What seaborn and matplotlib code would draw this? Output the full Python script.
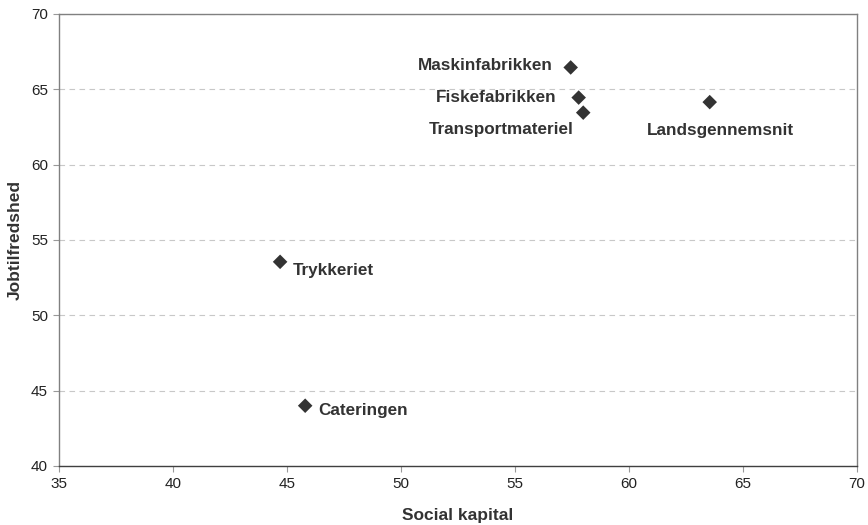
import matplotlib
matplotlib.use("Agg")
import matplotlib.pyplot as plt
import seaborn as sns
import pandas as pd

names = ["Maskinfabrikken", "Fiskefabrikken", "Transportmateriel",
         "Landsgennemsnit", "Trykkeriet", "Cateringen"]
social_kapital = [57.45, 57.8, 58.0, 63.55, 44.7, 45.8]
jobtilfredshed = [66.45, 64.45, 63.45, 64.15, 53.55, 44.0]
x_ticks = [35, 40, 45, 50, 55, 60, 65, 70]
y_ticks = [40, 45, 50, 55, 60, 65, 70]

df = pd.DataFrame({"Social kapital": social_kapital,
                   "Jobtilfredshed": jobtilfredshed,
                   "navn": names})

sns.set_theme(style="white")
plt.rcParams['font.family'] = ['Liberation Sans', 'DejaVu Sans']

fig = plt.figure(figsize=(8.68, 5.25), dpi=100)
ax = fig.add_axes([0.068, 0.1124, 0.919, 0.861])

sns.scatterplot(data=df, x="Social kapital", y="Jobtilfredshed", ax=ax,
                marker="D", s=55, color="#333333", edgecolor="none", zorder=3)

ax.set_xlim(35, 70)
ax.set_ylim(40, 70)
ax.set_xticks(x_ticks)
ax.set_yticks(y_ticks)
ax.yaxis.grid(True, linestyle=(0, (5, 4)), color="#c8c8c8", linewidth=0.8)
ax.xaxis.grid(False)
for sp in ax.spines.values():
    sp.set_color("#808080")
    sp.set_linewidth(1.0)
ax.spines["bottom"].set_color("#404040")
ax.tick_params(axis="both", length=4, width=0.8, color="#999999",
               labelsize=11, labelcolor="#222222", pad=4, direction="out")
ax.tick_params(axis="both", which="major", bottom=True, left=True)

ax.set_xlabel("Social kapital", fontsize=12.5, fontweight="bold", color="#333333", labelpad=12)
ax.set_ylabel("Jobtilfredshed", fontsize=12.5, fontweight="bold", color="#333333", labelpad=6)

offsets = {
    "Maskinfabrikken": (-18, 2, "right"),
    "Fiskefabrikken": (-22, 0, "right"),
    "Transportmateriel": (-10, -17, "right"),
    "Landsgennemsnit": (11, -28, "center"),
    "Trykkeriet": (13, -9, "left"),
    "Cateringen": (13, -5, "left"),
}
for n, xv, yv in zip(names, social_kapital, jobtilfredshed):
    dx, dy, ha = offsets[n]
    ax.annotate(n, (xv, yv), xytext=(dx, dy), textcoords="offset pixels",
                ha=ha, va="center", fontsize=12.3, fontweight="bold", color="#333333")

fig.savefig("out.png", dpi=100)
